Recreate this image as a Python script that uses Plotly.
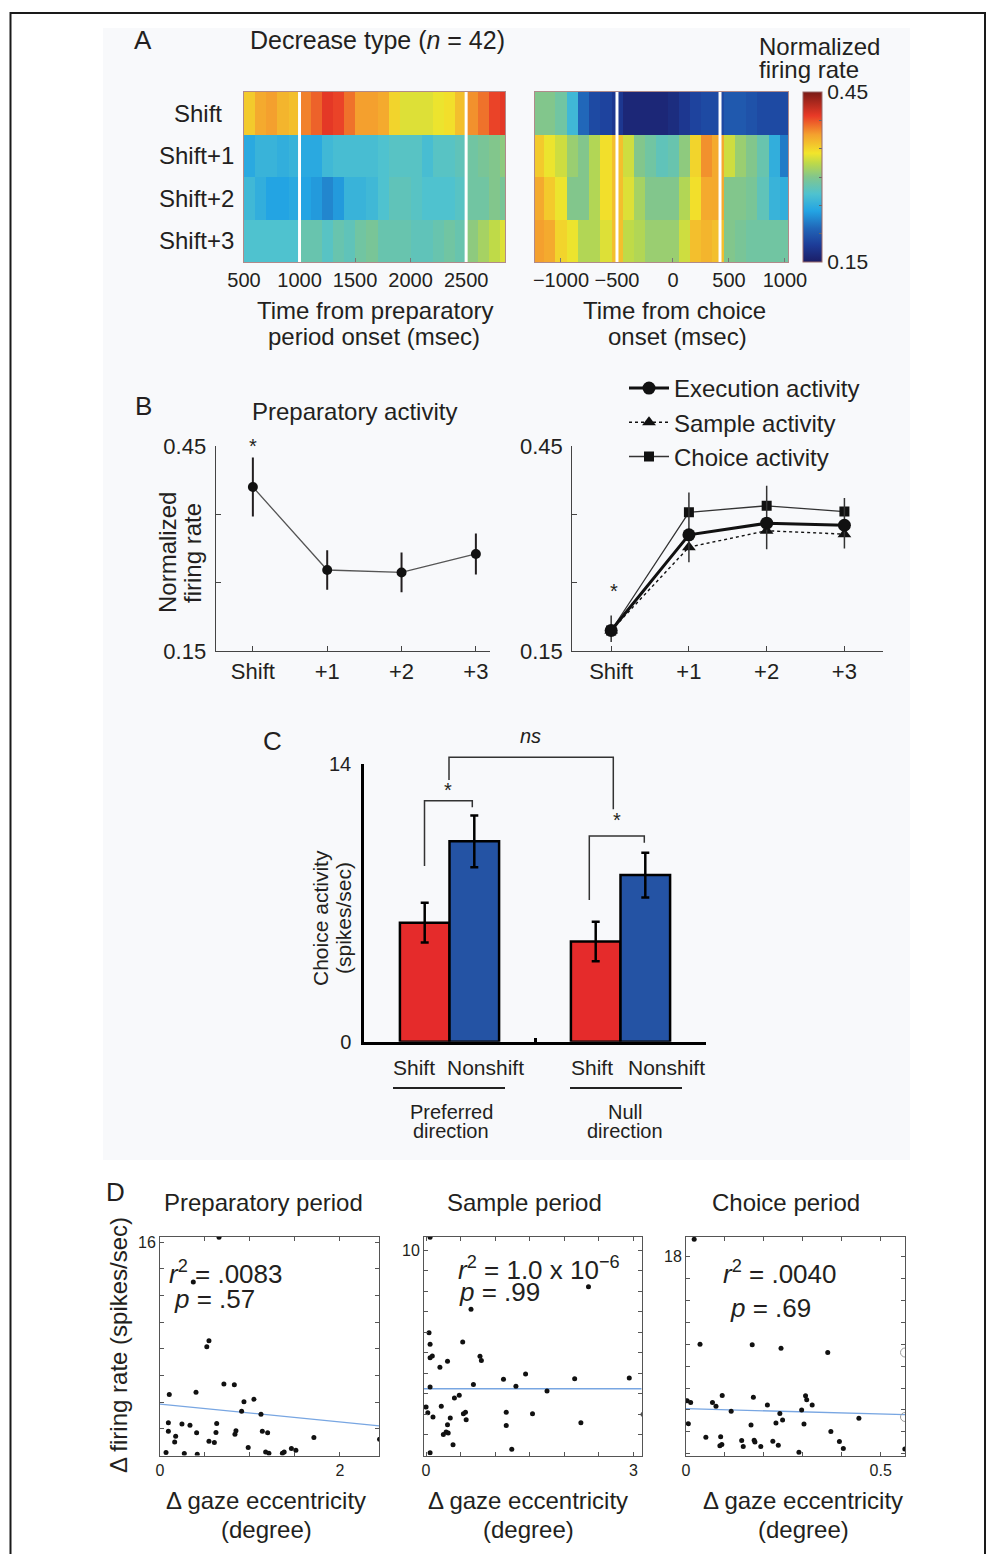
import plotly.graph_objects as go

W, H = 990, 1554
def fx(px): return px / W
def fy(py): return 1 - py / H

FONT = "Liberation Sans, Arial, Helvetica, sans-serif"
INK = "#231f20"

# ---------------- Panel A data ----------------
row_labels = ["Shift", "Shift+1", "Shift+2", "Shift+3"]
prep_time = [550, 650, 750, 850, 950, 1050, 1150, 1250, 1350, 1450, 1550, 1650,
             1750, 1850, 1950, 2050, 2150, 2250, 2350, 2450, 2550, 2650, 2750, 2850]
prep_shift = [0.355, 0.37, 0.375, 0.365, 0.36, 0.385, 0.395, 0.41, 0.405, 0.39, 0.375, 0.375,
              0.37, 0.35, 0.335, 0.335, 0.335, 0.34, 0.345, 0.36, 0.38, 0.39, 0.405, 0.41]
prep_s1 = [0.245, 0.255, 0.255, 0.25, 0.255, 0.245, 0.245, 0.26, 0.265, 0.265, 0.265, 0.265,
           0.27, 0.275, 0.275, 0.275, 0.265, 0.275, 0.275, 0.28, 0.29, 0.295, 0.30, 0.305]
prep_s2 = [0.26, 0.25, 0.24, 0.24, 0.245, 0.24, 0.235, 0.225, 0.235, 0.255, 0.255, 0.26,
           0.27, 0.28, 0.28, 0.275, 0.27, 0.27, 0.27, 0.275, 0.29, 0.29, 0.30, 0.295]
prep_s3 = [0.27, 0.27, 0.27, 0.27, 0.27, 0.285, 0.285, 0.275, 0.285, 0.28, 0.29, 0.295,
           0.285, 0.285, 0.285, 0.28, 0.28, 0.285, 0.29, 0.285, 0.305, 0.315, 0.325, 0.335]
prep_events = [1000, 2500]

choice_time = [-1200, -1100, -1000, -900, -800, -700, -600, -500, -400, -300, -200, -100,
               0, 100, 200, 300, 400, 500, 600, 700, 800, 900, 1000]
choice_shift = [0.30, 0.30, 0.29, 0.26, 0.21, 0.19, 0.185, 0.175, 0.16, 0.16, 0.16, 0.16,
                0.165, 0.175, 0.185, 0.19, 0.19, 0.20, 0.20, 0.195, 0.19, 0.19, 0.19]
choice_s1 = [0.355, 0.34, 0.33, 0.31, 0.30, 0.32, 0.345, 0.36, 0.33, 0.30, 0.29, 0.28,
             0.285, 0.305, 0.35, 0.38, 0.37, 0.33, 0.31, 0.30, 0.285, 0.25, 0.22]
choice_s2 = [0.37, 0.355, 0.34, 0.30, 0.30, 0.32, 0.345, 0.36, 0.335, 0.315, 0.30, 0.30,
             0.30, 0.32, 0.345, 0.37, 0.37, 0.30, 0.30, 0.295, 0.28, 0.255, 0.25]
choice_s3 = [0.375, 0.37, 0.35, 0.34, 0.32, 0.32, 0.335, 0.36, 0.325, 0.32, 0.31, 0.31,
             0.31, 0.33, 0.36, 0.365, 0.36, 0.30, 0.295, 0.29, 0.29, 0.29, 0.29]
choice_events = [-500, 420]

# ---------------- Panel B data ----------------
stage_x = [0, 1, 2, 3]
stage_labels = ["Shift", "+1", "+2", "+3"]
prep_mean = [0.390, 0.2685, 0.265, 0.292]
prep_err = [0.043, 0.029, 0.029, 0.030]
exec_mean = [0.180, 0.320, 0.337, 0.334]
exec_err_plus = [0.022, 0.062, 0.055, 0.040]
exec_err_minus = [0.017, 0.040, 0.038, 0.034]
sample_mean = [0.180, 0.302, 0.326, 0.321]
choice_mean = [0.180, 0.353, 0.3625, 0.354]

# ---------------- Panel C data ----------------
groups = [0, 1]
shift_rate = [6.0, 5.05]
shift_sem = [1.0, 1.0]
nonshift_rate = [10.1, 8.4]
nonshift_sem = [1.3, 1.13]

# ---------------- Panel D data ----------------
prep_dx = [0.656, 0.37, 0.52, 0.544, 0.103, 0.40, 0.71, 0.826, 0.933, 1.044, 0.907, 1.122, 0.093,
           0.093, 0.174, 0.163, 0.244, 0.333, 0.407, 0.63, 0.622, 0.544, 0.604, 0.844, 0.833, 0.98,
           1.137, 1.196, 1.174, 1.21, 1.36, 1.38, 1.46, 1.51, 1.71, 2.44, 0.067, 0.27, 0.414]
prep_dy = [16.35, 13.0, 8.15, 8.6, 4.58, 4.75, 5.35, 5.3, 4.02, 4.22, 3.32, 3.1, 2.45,
           1.82, 1.45, 1.02, 2.37, 2.27, 1.7, 2.4, 1.72, 1.07, 0.97, 1.85, 1.6, 0.6,
           1.82, 1.7, 0.27, 0.17, 0.17, 0.27, 0.52, 0.4, 1.35, 1.22, 0.22, 0.15, 0.1]
prep_fit_x = [0, 2.437]
prep_fit_y = [3.85, 2.22]

samp_dx = [0.058, 2.35, 0.65, 0.043, 0.058, 0.53, 0.058, 0.09, 0.78, 0.8, 0.2, 0.31, 0.058, 0.685,
           1.12, 1.30, 1.44, 1.75, 2.15, 2.94, 0.41, 0.48, 0.0, 0.025, 0.1, 0.22, 0.54, 0.57, 0.58,
           0.35, 0.31, 0.29, 0.25, 0.32, 0.39, 1.16, 1.16, 1.54, 1.24, 2.24, 3.14, 0.058]
samp_dy = [10.62, 8.21, 7.12, 5.98, 5.41, 5.53, 4.76, 4.84, 4.83, 4.62, 4.29, 4.59, 3.33, 3.46,
           3.71, 3.37, 3.97, 3.14, 3.74, 3.77, 2.80, 2.93, 2.36, 2.08, 1.87, 2.4, 2.03, 2.1, 1.74,
           1.82, 1.5, 1.14, 1.02, 1.09, 0.52, 2.11, 1.46, 2.03, 0.31, 1.6, 2.0, 0.13]
samp_fit_x = [-0.03, 3.12]
samp_fit_y = [3.25, 3.25]

choi_dx = [0.021, 0.036, 0.170, 0.244, 0.364, 0.003, 0.012, 0.068, 0.077, 0.093, 0.116, 0.173,
           0.209, 0.307, 0.31, 0.324, 0.297, 0.241, 0.248, 0.231, 0.167, 0.006, 0.303, 0.444,
           0.372, 0.051, 0.089, 0.087, 0.092, 0.143, 0.147, 0.175, 0.177, 0.192, 0.223, 0.237,
           0.29, 0.394, 0.404, 0.562]
choi_dy = [19.57, 10.0, 9.94, 9.63, 9.24, 4.85, 4.69, 4.69, 4.33, 5.33, 3.88, 5.15,
           4.45, 5.3, 4.94, 4.45, 4.0, 3.69, 3.09, 2.82, 2.64, 2.75, 2.73, 3.24,
           2.03, 1.51, 1.55, 0.75, 0.85, 1.21, 0.66, 1.24, 1.09, 0.66, 1.15, 0.78,
           0.15, 1.12, 0.48, 0.45]
choi_open_x = [0.5624, 0.5624]
choi_open_y = [9.24, 3.36]
choi_fit_x = [0, 0.5624]
choi_fit_y = [4.12, 3.57]

# ---------------- styles ----------------
jet_print = [
    [0.0, "#1b1d66"], [0.1, "#1d3c98"], [0.2, "#2167b9"], [0.3, "#23a4e3"],
    [0.4, "#4fc2cf"], [0.5, "#82c68c"], [0.58, "#bcd94a"], [0.64, "#f2e52b"],
    [0.75, "#f4a02e"], [0.86, "#e93a27"], [1.0, "#7a1a16"],
]
RED = "#e52b2b"
BLUE = "#2453a4"

fig = go.Figure()

# Panel A heatmaps
fig.add_trace(go.Heatmap(x=prep_time, y=row_labels,
                         z=[prep_shift, prep_s1, prep_s2, prep_s3],
                         coloraxis="coloraxis", xaxis="x", yaxis="y", hoverinfo="skip"))
fig.add_trace(go.Heatmap(x=choice_time, y=row_labels,
                         z=[choice_shift, choice_s1, choice_s2, choice_s3],
                         coloraxis="coloraxis", xaxis="x2", yaxis="y2", hoverinfo="skip"))

# Panel B left
fig.add_trace(go.Scatter(x=stage_x, y=prep_mean, mode="lines+markers",
                         error_y=dict(type="data", array=prep_err, color=INK, thickness=2, width=0),
                         line=dict(color="#555555", width=1.3),
                         marker=dict(symbol="circle", size=10, color="#111111"),
                         xaxis="x3", yaxis="y3", showlegend=False))
# Panel B right
fig.add_trace(go.Scatter(x=stage_x, y=sample_mean, mode="lines+markers", name="Sample activity",
                         line=dict(color="#111111", width=1.4, dash="dot"),
                         marker=dict(symbol="triangle-up", size=12, color="#111111"),
                         xaxis="x4", yaxis="y4", legendrank=2))
fig.add_trace(go.Scatter(x=stage_x, y=choice_mean, mode="lines+markers", name="Choice activity",
                         line=dict(color="#333333", width=1.3),
                         marker=dict(symbol="square", size=10, color="#111111"),
                         xaxis="x4", yaxis="y4", legendrank=3))
fig.add_trace(go.Scatter(x=stage_x, y=exec_mean, mode="lines+markers", name="Execution activity",
                         error_y=dict(type="data", symmetric=False, array=exec_err_plus,
                                      arrayminus=exec_err_minus, color="#333333", thickness=1.5, width=0),
                         line=dict(color="#111111", width=3),
                         marker=dict(symbol="circle", size=13, color="#111111"),
                         xaxis="x4", yaxis="y4", legendrank=1))

# Panel C bars
fig.add_trace(go.Bar(x=groups, y=shift_rate, name="Shift",
                     error_y=dict(type="data", array=shift_sem, color="black", thickness=2.5, width=4),
                     marker=dict(color=RED, line=dict(color="black", width=2.5)),
                     xaxis="x5", yaxis="y5", showlegend=False))
fig.add_trace(go.Bar(x=groups, y=nonshift_rate, name="Nonshift",
                     error_y=dict(type="data", array=nonshift_sem, color="black", thickness=2.5, width=4),
                     marker=dict(color=BLUE, line=dict(color="black", width=2.5)),
                     xaxis="x5", yaxis="y5", showlegend=False))

# Panel D scatters
dot = dict(size=5, color="#111111")
fitline = dict(color="#78a6e2", width=1.3)
fig.add_trace(go.Scatter(x=prep_fit_x, y=prep_fit_y, mode="lines", line=fitline,
                         xaxis="x6", yaxis="y6", showlegend=False))
fig.add_trace(go.Scatter(x=prep_dx, y=prep_dy, mode="markers", marker=dot,
                         xaxis="x6", yaxis="y6", showlegend=False))
fig.add_trace(go.Scatter(x=samp_fit_x, y=samp_fit_y, mode="lines", line=fitline,
                         xaxis="x7", yaxis="y7", showlegend=False))
fig.add_trace(go.Scatter(x=samp_dx, y=samp_dy, mode="markers", marker=dot,
                         xaxis="x7", yaxis="y7", showlegend=False))
fig.add_trace(go.Scatter(x=choi_fit_x, y=choi_fit_y, mode="lines", line=fitline,
                         xaxis="x8", yaxis="y8", showlegend=False))
fig.add_trace(go.Scatter(x=choi_dx, y=choi_dy, mode="markers", marker=dot,
                         xaxis="x8", yaxis="y8", showlegend=False))
fig.add_trace(go.Scatter(x=choi_open_x, y=choi_open_y, mode="markers",
                         marker=dict(symbol="circle-open", size=9, color="#9a9a9a", line=dict(width=1)),
                         xaxis="x8", yaxis="y8", showlegend=False))

# ---------------- axes ----------------
HM_LINE = "#b08a8a"
def hm_x(domain, rng, tv, anchor):
    return dict(domain=domain, range=rng, tickvals=tv, ticks="inside", ticklen=4, tickcolor="#777",
                showline=True, mirror=True, linecolor=HM_LINE, linewidth=1, showgrid=False,
                zeroline=False, tickfont=dict(size=20, color=INK), anchor=anchor, automargin=False)

def hm_y(domain, anchor):
    return dict(domain=domain, range=[3.5, -0.5], type="category", ticks="", showline=True,
                mirror=True, linecolor=HM_LINE, linewidth=1, showgrid=False, zeroline=False,
                showticklabels=False, anchor=anchor, automargin=False)

def line_x(domain, rng, tv, tt, anchor, size=22):
    return dict(domain=domain, range=rng, tickvals=tv, ticktext=tt, ticks="inside", ticklen=5,
                tickcolor="#444", showline=True, linecolor="#444", linewidth=1.3, showgrid=False,
                zeroline=False, tickfont=dict(size=size, color=INK), anchor=anchor, automargin=False)

def line_y(domain, anchor):
    return dict(domain=domain, range=[0.15, 0.45], tickvals=[0.15, 0.25, 0.35, 0.45],
                ticktext=["0.15", "", "", "0.45"], ticks="inside", ticklen=5, tickcolor="#444",
                showline=True, linecolor="#444", linewidth=1.3, showgrid=False, zeroline=False,
                tickfont=dict(size=22, color=INK), anchor=anchor, ticklabelstandoff=4,
                automargin=False)

def d_ax(domain, rng, tv, tt, anchor):
    return dict(domain=domain, range=rng, tickvals=tv, ticktext=tt, ticks="inside", ticklen=4,
                tickcolor="#555", showline=True, mirror="allticks", linecolor="#555", linewidth=1,
                showgrid=False, zeroline=False, tickfont=dict(size=16, color=INK), anchor=anchor,
                automargin=False)

D_YDOM = [fy(1455.5), fy(1236.7)]

layout = dict(
    width=W, height=H, margin=dict(l=0, r=0, t=0, b=0, pad=0, autoexpand=False),
    paper_bgcolor="white", plot_bgcolor="rgba(0,0,0,0)",
    font=dict(family=FONT, color=INK),
    barmode="group", bargap=0.42, bargroupgap=0,
    coloraxis=dict(cmin=0.15, cmax=0.45, colorscale=jet_print,
                   colorbar=dict(x=fx(803), xanchor="left", xpad=0, ypad=0, y=fy(177), yanchor="middle",
                                 len=170, lenmode="pixels", thickness=19, thicknessmode="pixels",
                                 tickvals=[0.15, 0.20, 0.25, 0.30, 0.35, 0.40, 0.45],
                                 ticktext=["0.15", "", "", "", "", "", "0.45"],
                                 ticks="inside", ticklen=3, tickcolor="#666",
                                 outlinewidth=1, outlinecolor="#9a6a6a",
                                 tickfont=dict(size=21, color=INK))),
    xaxis=hm_x([fx(244), fx(505)], [500, 2850], [500, 1000, 1500, 2000, 2500], "y"),
    yaxis=hm_y([fy(262), fy(92)], "x"),
    xaxis2=hm_x([fx(535), fx(788)], [-1232, 1027], [-1000, -500, 0, 500, 1000], "y2"),
    yaxis2=hm_y([fy(262), fy(92)], "x2"),
    xaxis3=line_x([fx(215.7), fx(490)], [-0.5, 3.19], stage_x, stage_labels, "y3"),
    yaxis3=line_y([fy(651), fy(446)], "x3"),
    xaxis4=line_x([fx(572.3), fx(883.3)], [-0.5, 3.5], stage_x, stage_labels, "y4"),
    yaxis4=line_y([fy(651), fy(446)], "x4"),
    xaxis5=dict(domain=[fx(364), fx(706)], range=[-0.5, 1.5], tickvals=[-0.5, 0.5, 1.5],
                showticklabels=False, ticks="inside", ticklen=4, tickwidth=3, tickcolor="black",
                showline=True, linecolor="black", linewidth=2.5, showgrid=False, zeroline=False,
                anchor="y5", automargin=False),
    yaxis5=dict(domain=[fy(1041.7), fy(764)], range=[0, 14], tickvals=[0, 14], ticks="inside",
                ticklen=4, tickwidth=3, tickcolor="black", showline=True, linecolor="black",
                linewidth=2.5, showgrid=False, zeroline=False, tickfont=dict(size=20, color=INK),
                anchor="x5", ticklabelstandoff=6, automargin=False),
    xaxis6=d_ax([fx(160), fx(379.3)], [0, 2.437], [0, 0.5, 1, 1.5, 2], ["0", "", "", "", "2"], "y6"),
    yaxis6=d_ax(D_YDOM, [0, 16.4], [0, 2, 4, 6, 8, 10, 12, 14, 16],
                ["", "", "", "", "", "", "", "", "16"], "x6"),
    xaxis7=d_ax([fx(424), fx(641.7)], [-0.03, 3.12], [0, 0.5, 1, 1.5, 2, 2.5, 3],
                ["0", "", "", "", "", "", "3"], "y7"),
    yaxis7=d_ax(D_YDOM, [0, 10.65], [0, 1, 2, 3, 4, 5, 6, 7, 8, 9, 10],
                ["", "", "", "", "", "", "", "", "", "", "10"], "x7"),
    xaxis8=d_ax([fx(686), fx(905)], [0, 0.5624], [0, 0.1, 0.2, 0.3, 0.4, 0.5],
                ["0", "", "", "", "", "0.5"], "y8"),
    yaxis8=d_ax(D_YDOM, [-0.15, 19.8], [0, 2, 4, 6, 8, 10, 12, 14, 16, 18],
                ["", "", "", "", "", "", "", "", "", "18"], "x8"),
    legend=dict(x=fx(624), y=fy(366), xanchor="left", yanchor="top",
                font=dict(size=24, color=INK), bgcolor="rgba(0,0,0,0)", itemwidth=40,
                traceorder="normal"),
    showlegend=True,
)
fig.update_layout(**layout)

# ---------------- shapes ----------------
shapes = []
shapes.append(dict(type="rect", xref="paper", yref="paper", x0=fx(103), x1=fx(910),
                   y0=fy(1160), y1=fy(28), fillcolor="#f8f9fb", line=dict(width=0), layer="below"))
shapes.append(dict(type="rect", xref="paper", yref="paper", x0=fx(10.5), x1=fx(985),
                   y0=fy(1575), y1=fy(13), fillcolor="rgba(0,0,0,0)",
                   line=dict(color="#1a1a1a", width=2), layer="above"))
for t in prep_events:
    shapes.append(dict(type="line", xref="x", yref="y", x0=t, x1=t, y0=-0.5, y1=3.5,
                       line=dict(color="white", width=3)))
for t in choice_events:
    shapes.append(dict(type="line", xref="x2", yref="y2", x0=t, x1=t, y0=-0.5, y1=3.5,
                       line=dict(color="white", width=3)))

def path(pts):
    return "M " + " L ".join(f"{fx(a)},{fy(b)}" for a, b in pts)

BR = dict(color="#333333", width=1.5)
shapes.append(dict(type="path", xref="paper", yref="paper",
                   path=path([(424.5, 866), (424.5, 800.7), (472.3, 800.7), (472.3, 807.3)]), line=BR))
shapes.append(dict(type="path", xref="paper", yref="paper",
                   path=path([(589.3, 900), (589.3, 836), (644.3, 836), (644.3, 842.7)]), line=BR))
shapes.append(dict(type="path", xref="paper", yref="paper",
                   path=path([(449, 780), (449, 757.3), (613.3, 757.3), (613.3, 809.3)]), line=BR))
shapes.append(dict(type="line", xref="paper", yref="paper", x0=fx(393), x1=fx(505),
                   y0=fy(1088), y1=fy(1088), line=dict(color="#222", width=2)))
shapes.append(dict(type="line", xref="paper", yref="paper", x0=fx(570), x1=fx(682),
                   y0=fy(1088), y1=fy(1088), line=dict(color="#222", width=2)))
fig.update_layout(shapes=shapes)

# ---------------- text ----------------
def txt(s, px, py, size=24, xanchor="center", angle=0):
    fig.add_annotation(text=s, x=fx(px), y=fy(py), xref="paper", yref="paper", showarrow=False,
                       xanchor=xanchor, yanchor="middle", textangle=angle,
                       font=dict(size=size, color=INK, family=FONT))

# heatmap row labels (centred, as in the original)
for i, lab in enumerate(row_labels):
    fig.add_annotation(text=lab, x=fx(198 if i == 0 else 196), xref="paper", y=lab, yref="y",
                       showarrow=False, xanchor="center", yanchor="middle",
                       font=dict(size=24, color=INK, family=FONT))

txt("A", 143, 40, 26)
txt("Decrease type (<i>n</i> = 42)", 377, 40, 25)
txt("Normalized", 757, 46, 24, "left")
txt("firing rate", 757, 70, 24, "left")
txt("Time from preparatory", 375, 310, 24)
txt("period onset (msec)", 374, 337, 24)
txt("Time from choice", 674, 310, 24)
txt("onset (msec)", 677, 337, 24)

txt("B", 143, 406, 26)
txt("Preparatory activity", 354, 411, 24)
txt("Normalized", 168, 553, 24, angle=-90)
txt("firing rate", 193, 553, 24, angle=-90)
txt("*", 253, 446, 20)
txt("*", 614, 591, 20)

txt("C", 272, 741, 26)
txt("<i>ns</i>", 530, 736, 20)
txt("*", 448, 790, 20)
txt("*", 617, 820, 20)
txt("Choice activity", 320, 918, 21, angle=-90)
txt("(spikes/sec)", 343, 918, 21, angle=-90)
txt("Shift", 414, 1067, 21)
txt("Nonshift", 485, 1067, 21)
txt("Shift", 592, 1067, 21)
txt("Nonshift", 666, 1067, 21)
txt("Preferred", 451, 1112, 20)
txt("direction", 451, 1131, 20)
txt("Null", 625, 1112, 20)
txt("direction", 625, 1131, 20)

txt("D", 115, 1192, 26)
txt("Preparatory period", 263, 1202, 24)
txt("Sample period", 524, 1202, 24)
txt("Choice period", 786, 1202, 24)
txt("Δ firing rate (spikes/sec)", 118, 1345, 24, angle=-90)
for cx in (266, 528, 803):
    txt("Δ gaze eccentricity", cx, 1500, 24)
    txt("(degree)", cx, 1529, 24)
txt("<i>r</i><sup>2</sup> = .0083", 167, 1272, 26, "left")
txt("<i>p</i> = .57", 172, 1299, 26, "left")
txt("<i>r</i><sup>2</sup> = 1.0 x 10<sup>−6</sup>", 456, 1268, 26, "left")
txt("<i>p</i> = .99", 457, 1292, 26, "left")
txt("<i>r</i><sup>2</sup> = .0040", 721, 1272, 26, "left")
txt("<i>p</i> = .69", 728, 1308, 26, "left")

fig.write_html("out.html", config={"displayModeBar": False},
               post_script="document.body.style.margin='0px';")
